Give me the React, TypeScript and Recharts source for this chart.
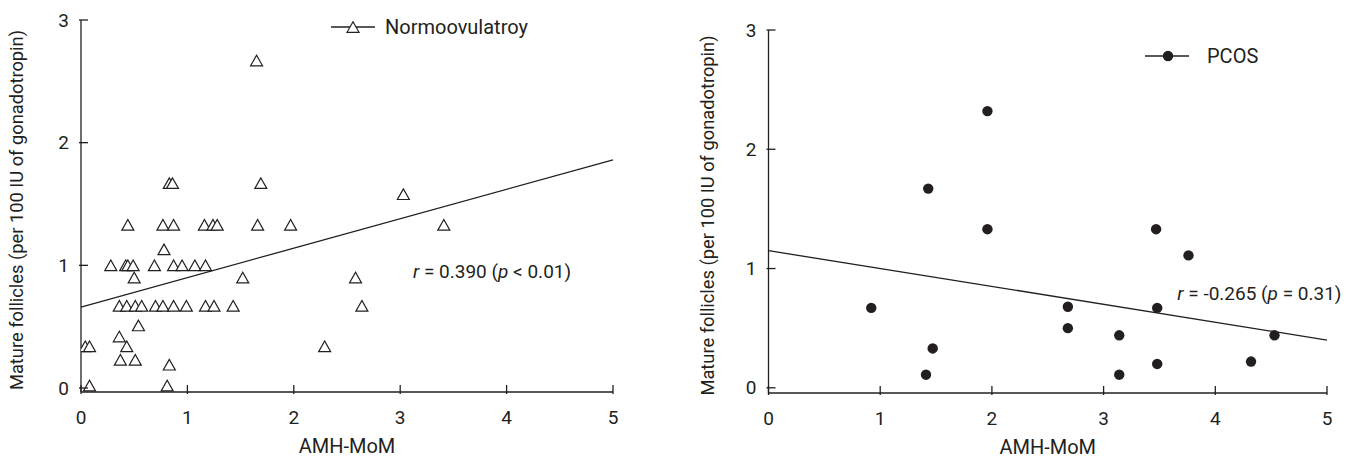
import {
  Legend,
  ReferenceDot,
  ReferenceLine,
  Scatter,
  ScatterChart,
  XAxis,
  YAxis,
} from "recharts";

// Normoovulatory group (AMH-MoM vs mature follicles per 100 IU)
const normoAmh = [
  0.44, 0.77, 0.87, 1.16, 1.24, 1.28, 1.66, 1.97, 3.41,
  0.83, 0.86, 1.69, 1.65, 3.03, 0.78,
  0.28, 0.42, 0.44, 0.49, 0.69, 0.87, 0.95, 1.07, 1.17,
  0.5, 1.52, 2.58,
  0.36, 0.43, 0.51, 0.57, 0.7, 0.77, 0.87, 0.99, 1.17, 1.25, 1.43, 2.64,
  0.54, 0.36, 0.04, 0.08, 0.43, 2.29, 0.37, 0.51, 0.83, 0.08, 0.81,
];
const normoFollicles = [
  1.33, 1.33, 1.33, 1.33, 1.33, 1.33, 1.33, 1.33, 1.33,
  1.67, 1.67, 1.67, 2.67, 1.58, 1.13,
  1.0, 1.0, 1.0, 1.0, 1.0, 1.0, 1.0, 1.0, 1.0,
  0.9, 0.9, 0.9,
  0.67, 0.67, 0.67, 0.67, 0.67, 0.67, 0.67, 0.67, 0.67, 0.67, 0.67, 0.67,
  0.51, 0.42, 0.34, 0.34, 0.34, 0.34, 0.23, 0.23, 0.19, 0.02, 0.02,
];

// PCOS group
const pcosAmh = [
  0.92, 1.43, 1.41, 1.47, 1.96, 1.96, 2.68, 2.68, 3.14, 3.14, 3.47, 3.48,
  3.48, 3.76, 4.32, 4.53,
];
const pcosFollicles = [
  0.67, 1.67, 0.11, 0.33, 2.32, 1.33, 0.68, 0.5, 0.44, 0.11, 1.33, 0.67,
  0.2, 1.11, 0.22, 0.44,
];

// regression lines (end points)
const normoFitX = [0, 5];
const normoFitY = [0.66, 1.86];
const pcosFitX = [0, 5];
const pcosFitY = [1.15, 0.4];

const xTicks = [0, 1, 2, 3, 4, 5];
const yTicks = [0, 1, 2, 3];

const INK = "#231f20";
const FONT = "Roboto, sans-serif";
const FS = 19;

const normoData = normoAmh.map((x, i) => ({ x, y: normoFollicles[i] }));
const pcosData = pcosAmh.map((x, i) => ({ x, y: pcosFollicles[i] }));
const normoFit = normoFitX.map((x, i) => ({ x, y: normoFitY[i] }));
const pcosFit = pcosFitX.map((x, i) => ({ x, y: pcosFitY[i] }));

function triPoints(cx: number, cy: number) {
  const w = 6;
  const h = 5.3;
  return `${cx},${cy - h} ${cx - w},${cy + h} ${cx + w},${cy + h}`;
}

const TriangleShape = (props: any) => (
  <polygon
    points={triPoints(props.cx, props.cy)}
    fill="#fff"
    stroke={INK}
    strokeWidth={1.2}
  />
);

const DotShape = (props: any) => (
  <circle cx={props.cx} cy={props.cy} r={5.2} fill={INK} />
);

const XTick = ({ x, y, payload }: any) => (
  <g>
    <line x1={x} y1={y} x2={x} y2={y - 9} stroke={INK} strokeWidth={1.3} />
    <text x={x} y={y + 30} textAnchor="middle" fontSize={FS} fill={INK} fontFamily={FONT}>
      {payload.value}
    </text>
  </g>
);

const YTick = ({ x, y, payload }: any) => (
  <g>
    <line x1={x} y1={y} x2={x + 9} y2={y} stroke={INK} strokeWidth={1.3} />
    <text x={x - 10} y={y + 6.7} textAnchor="end" fontSize={FS} fill={INK} fontFamily={FONT}>
      {payload.value}
    </text>
  </g>
);

const xTitle = (props: any) => {
  const vb = props.viewBox;
  return (
    <text
      x={vb.x + vb.width / 2}
      y={vb.y + 61}
      textAnchor="middle"
      fontSize={20}
      fill={INK}
      fontFamily={FONT}
    >
      AMH-MoM
    </text>
  );
};

const yTitle = (cx: number) => (props: any) => {
  const vb = props.viewBox;
  const cy = vb.y + vb.height / 2 + 4;
  return (
    <text
      x={cx}
      y={cy}
      dy={6.4}
      transform={`rotate(-90 ${cx} ${cy})`}
      textAnchor="middle"
      fontSize={18.3}
      fill={INK}
      fontFamily={FONT}
    >
      Mature follicles (per 100 IU of gonadotropin)
    </text>
  );
};

const statText = (r: string, rel: string, p: string) => (props: any) => (
  <text x={props.cx} y={props.cy + 6.7} fontSize={FS} fill={INK} fontFamily={FONT}>
    <tspan fontStyle="italic">r</tspan>
    {` = ${r} (`}
    <tspan fontStyle="italic">p</tspan>
    {` ${rel} ${p})`}
  </text>
);

const legendContent = (kind: "tri" | "dot") => (props: any) => {
  const label = props.payload?.[0]?.value ?? "";
  return (
    <svg width={240} height={26}>
      <line x1={6} y1={13} x2={50} y2={13} stroke={INK} strokeWidth={1.3} />
      {kind === "tri" ? (
        <polygon points={triPoints(28, 13)} fill="#fff" stroke={INK} strokeWidth={1.2} />
      ) : (
        <circle cx={29} cy={13} r={5.2} fill={INK} />
      )}
      <text x={kind === "tri" ? 60 : 68} y={20} fontSize={20} fill={INK} fontFamily={FONT}>
        {label}
      </text>
    </svg>
  );
};

const axisLine = { stroke: INK, strokeWidth: 1.3 };

export default function App() {
  return (
    <div
      style={{
        position: "absolute",
        left: 0,
        top: 0,
        width: 1354,
        height: 462,
        display: "flex",
        background: "#fff",
      }}
    >
      <ScatterChart width={677} height={462} margin={{ top: 20, right: 64, bottom: 0, left: 0 }}>
        <XAxis
          type="number"
          dataKey="x"
          domain={[0, 5]}
          ticks={xTicks}
          interval={0}
          height={70}
          tickSize={0}
          tickLine={false}
          tick={(p: any) => <XTick {...p} />}
          axisLine={axisLine}
          allowDataOverflow
          label={xTitle}
        />
        <YAxis
          type="number"
          dataKey="y"
          domain={[-0.0326, 3]}
          ticks={yTicks}
          interval={0}
          width={81}
          tickSize={0}
          tickLine={false}
          tick={(p: any) => <YTick {...p} />}
          axisLine={axisLine}
          allowDataOverflow
          label={yTitle(17)}
        />
        <ReferenceLine segment={normoFit} stroke={INK} strokeWidth={1.3} ifOverflow="visible" />
        <Scatter
          name="Normoovulatroy"
          data={normoData}
          shape={TriangleShape}
          isAnimationActive={false}
        />
        <ReferenceDot x={3.12} y={0.948} r={0} shape={statText("0.390", "<", "0.01")} />
        <Legend
          layout="horizontal"
          verticalAlign="middle"
          align="center"
          wrapperStyle={{ left: 325, top: 14, width: 240, height: 26 }}
          content={legendContent("tri")}
        />
      </ScatterChart>
      <ScatterChart width={677} height={462} margin={{ top: 30, right: 27, bottom: 0, left: 0 }}>
        <XAxis
          type="number"
          dataKey="x"
          domain={[0, 5]}
          ticks={xTicks}
          interval={0}
          height={69}
          tickSize={0}
          tickLine={false}
          tick={(p: any) => <XTick {...p} />}
          axisLine={axisLine}
          allowDataOverflow
          label={xTitle}
        />
        <YAxis
          type="number"
          dataKey="y"
          domain={[-0.0436, 3]}
          ticks={yTicks}
          interval={0}
          width={91.5}
          tickSize={0}
          tickLine={false}
          tick={(p: any) => <YTick {...p} />}
          axisLine={axisLine}
          allowDataOverflow
          label={yTitle(31)}
        />
        <ReferenceLine segment={pcosFit} stroke={INK} strokeWidth={1.3} ifOverflow="visible" />
        <Scatter name="PCOS" data={pcosData} shape={DotShape} isAnimationActive={false} />
        <ReferenceDot x={3.66} y={0.79} r={0} shape={statText("-0.265", "=", "0.31")} />
        <Legend
          layout="horizontal"
          verticalAlign="middle"
          align="center"
          wrapperStyle={{ left: 462, top: 43, width: 240, height: 26 }}
          content={legendContent("dot")}
        />
      </ScatterChart>
    </div>
  );
}
